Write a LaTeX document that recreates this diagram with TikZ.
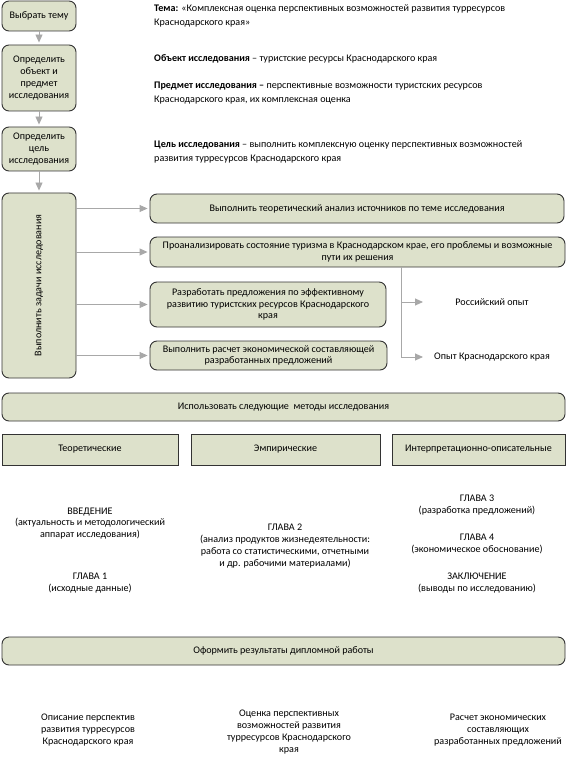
\documentclass[tikz,border=0pt]{standalone}
\usepackage{fontspec}
\setmainfont{Carlito}
\usetikzlibrary{arrows.meta}

\definecolor{boxfill}{HTML}{DDE1CB}
\definecolor{boxline}{HTML}{333333}
\definecolor{arrgray}{HTML}{A8A8A8}

\begin{document}
\begin{tikzpicture}[x=1pt, y=-1pt, font=\fontsize{10.1}{11.8}\selectfont]
    \tikzstyle{every node}=[inner sep=1pt]
    \tikzstyle{stepbox}=[draw=boxline, fill=boxfill, line width=0.9pt, rounded corners=7pt, align=center]
    \tikzstyle{methbox}=[draw=boxline, fill=boxfill, line width=0.9pt, align=center, minimum height=31pt]
    \tikzstyle{info}=[anchor=west, align=left, font=\fontsize{10.1}{14}\selectfont]
    \tikzstyle{chapter}=[align=center]
    \tikzstyle{arr}=[draw=arrgray, line width=0.9pt, -{Triangle[length=8pt, width=7pt]}, shorten >=2pt]
    \tikzstyle{gline}=[draw=arrgray, line width=0.9pt]

    \useasboundingbox (0,0) rectangle (567,759);

% Left column: steps of the study

    \node [stepbox, minimum width=74pt, minimum height=30pt] (theme) at (39,16) {Выбрать тему};
    \node [stepbox, minimum width=74pt, minimum height=66pt] (object) at (39,78) {Определить\\объект и\\предмет\\исследования};
    \node [stepbox, minimum width=74pt, minimum height=44pt] (goal) at (39,149) {Определить\\цель\\исследования};
    \node [stepbox, minimum width=74pt, minimum height=185pt] (tasks) at (39,285.5) {};
    \node [rotate=90] at (tasks.center) {Выполнить задачи исследования};

    \draw [arr] (theme) -- (object);
    \draw [arr] (object) -- (goal);
    \draw [arr] (goal) -- (tasks);

% Right column: formulations

    \node [info] (topic) at (153,16) {\textbf{Тема:} «Комплексная оценка перспективных возможностей развития турресурсов\\Краснодарского края»};
    \node [info] (objtext) at (153,59) {\textbf{Объект исследования} – туристские ресурсы Краснодарского края};
    \node [info] (subjtext) at (153,93) {\textbf{Предмет исследования –} перспективные возможности туристских ресурсов\\Краснодарского края, их комплексная оценка};
    \node [info] (goaltext) at (153,152) {\textbf{Цель исследования} – выполнить комплексную оценку перспективных возможностей\\развития турресурсов Краснодарского края};

% Tasks

    \node [stepbox, minimum width=414pt, minimum height=29pt] (taskA) at (357,208.5) {Выполнить теоретический анализ источников по теме исследования};
    \node [stepbox, minimum width=415pt, minimum height=30pt] (taskB) at (357.5,252) {Проанализировать состояние туризма в Краснодарском крае, его проблемы и возможные\\пути их решения};
    \node [stepbox, minimum width=236pt, minimum height=45pt] (taskC) at (268,304.5) {Разработать предложения по эффективному\\развитию туристских ресурсов Краснодарского\\края};
    \node [stepbox, minimum width=237pt, minimum height=29pt] (taskD) at (268.5,355.5) {Выполнить расчет экономической составляющей\\разработанных предложений};

    \foreach \t in {taskA, taskB, taskC, taskD}
        \draw [arr] (tasks.east |- \t.west) -- (\t.west);

    \coordinate (fork) at (401,357);
    \coordinate (ruEnd) at (425,302);
    \coordinate (krEnd) at (425,357);
    \node (ruexp) at (492,302) {Российский опыт};
    \node (krexp) at (492,357) {Опыт Краснодарского края};
    \draw [gline] (taskB.south -| fork) -- (fork);
    \draw [arr] (ruEnd -| fork) -- (ruEnd);
    \draw [arr] (fork) -- (krEnd);

% Methods

    \node [stepbox, minimum width=563pt, minimum height=28pt] (methods) at (283.5,407) {Использовать следующие\ \ методы исследования};
    \node [methbox, minimum width=176pt] (theor) at (90,449.5) {Теоретические};
    \node [methbox, minimum width=189pt] (empir) at (285.5,449.5) {Эмпирические};
    \node [methbox, minimum width=173pt] (interp) at (478.5,449.5) {Интерпретационно-описательные};

% Chapters

    \node [chapter] (intro) at (90,523.5) {ВВЕДЕНИЕ\\(актуальность и методологический\\аппарат исследования)};
    \node [chapter] (ch1) at (90,583) {ГЛАВА 1\\(исходные данные)};
    \node [chapter] (ch2) at (285,546) {ГЛАВА 2\\(анализ продуктов жизнедеятельности:\\работа со статистическими, отчетными\\и др. рабочими материалами)};
    \node [chapter] (ch3) at (477,505) {ГЛАВА 3\\(разработка предложений)};
    \node [chapter] (ch4) at (477,544) {ГЛАВА 4\\(экономическое обоснование)};
    \node [chapter] (concl) at (477,583) {ЗАКЛЮЧЕНИЕ\\(выводы по исследованию)};

% Results

    \node [stepbox, minimum width=563pt, minimum height=28pt] (results) at (283.5,651) {Оформить результаты дипломной работы};
    \node [chapter] (resA) at (88,730) {Описание перспектив\\развития турресурсов\\Краснодарского края};
    \node [chapter] (resB) at (289,732) {Оценка перспективных\\возможностей развития\\турресурсов Краснодарского\\края};
    \node [chapter] (resC) at (498,730) {Расчет экономических\\составляющих\\разработанных предложений};

\end{tikzpicture}
\end{document}
